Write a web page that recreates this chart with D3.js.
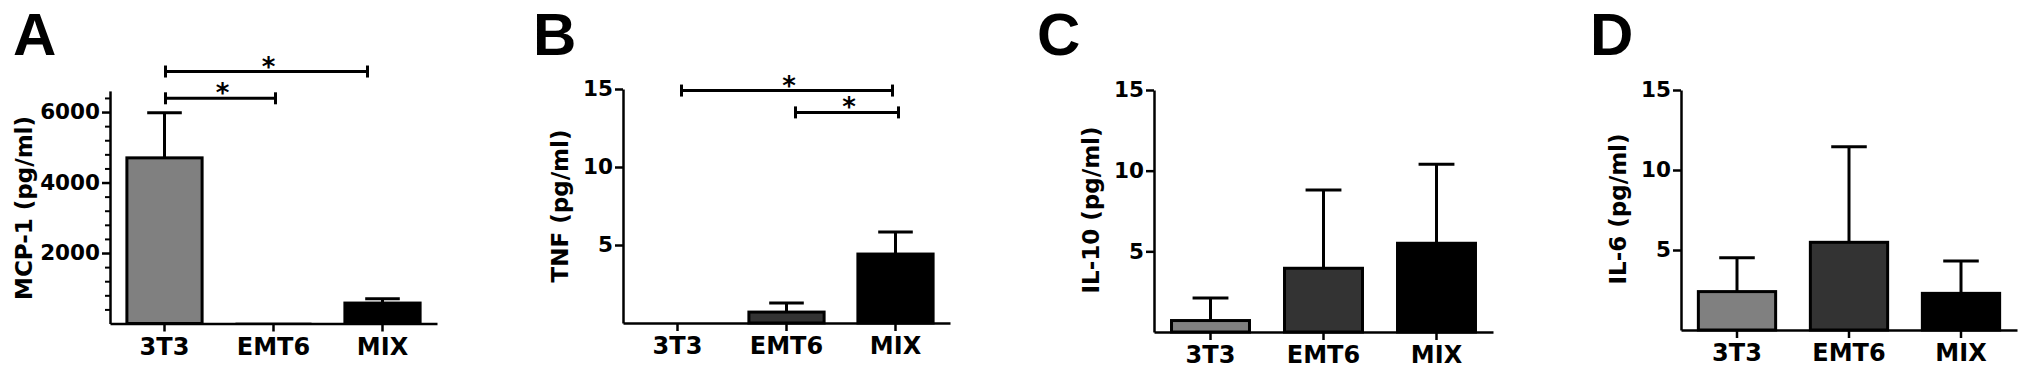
<!DOCTYPE html>
<html lang="en">
<head>
    <meta charset="UTF-8">
    <title>Cytokines</title>
    <script src="https://cdn.jsdelivr.net/npm/d3@7"></script>
    <style>
        body { margin: 0; background: #fff; }
        text { font-family: "DejaVu Sans", sans-serif; font-weight: bold; fill: #000; }
        .panel-letter { font-family: "Liberation Sans", Arial, sans-serif; font-size: 60px; }
    </style>
</head>
<body>
<script>
    // data (mean, upper error)
    var categories = ["3T3", "EMT6", "MIX"];
    var barColors = ["#808080", "#333333", "#000000"];

    var mcp1Mean = [4700, 20, 580];
    var mcp1Err = [1280, 0, 120];
    var tnfMean = [0, 0.7, 4.42];
    var tnfErr = [0, 0.58, 1.42];
    var il10Mean = [0.71, 3.95, 5.5];
    var il10Err = [1.4, 4.85, 4.9];
    var il6Mean = [2.4, 5.48, 2.29];
    var il6Err = [2.12, 5.98, 2.02];

    var mcp1Ticks = [2000, 4000, 6000];
    var mcp1Minor = d3.range(400, 6600, 400).filter(function (v) { return v % 2000 !== 0; });
    var cytoTicks = [5, 10, 15];

    // significance brackets: from / to category, height in data units
    var mcp1Sig = [
        { from: "3T3", to: "MIX", y: 7150, dx1: 1, dx2: -15 },
        { from: "3T3", to: "EMT6", y: 6390, dx1: 1, dx2: 2 }
    ];
    var tnfSig = [
        { from: "3T3", to: "MIX", y: 14.9, dx1: 4, dx2: -3 },
        { from: "EMT6", to: "MIX", y: 13.5, dx1: 9, dx2: 3 }
    ];

    var width = 2031, height = 380;
    var svg = d3.select("body").append("svg")
        .attr("width", width)
        .attr("height", height);

    var panels = [
        { letter: "A", lx: 13, title: "MCP-1 (pg/ml)", tx: 24, ty: 208,
          mean: mcp1Mean, err: mcp1Err, domain: [0, 6600], yr: [323.5, 90.9], xr: [110, 437],
          ticks: mcp1Ticks, minor: mcp1Minor, sig: mcp1Sig },
        { letter: "B", lx: 533, title: "TNF (pg/ml)", tx: 560, ty: 206,
          mean: tnfMean, err: tnfErr, domain: [0, 15], yr: [323, 89], xr: [623, 950],
          ticks: cytoTicks, minor: [], sig: tnfSig },
        { letter: "C", lx: 1037, title: "IL-10 (pg/ml)", tx: 1091, ty: 210,
          mean: il10Mean, err: il10Err, domain: [0, 15], yr: [332, 90], xr: [1154, 1493],
          ticks: cytoTicks, minor: [], sig: [] },
        { letter: "D", lx: 1590, title: "IL-6 (pg/ml)", tx: 1618, ty: 209,
          mean: il6Mean, err: il6Err, domain: [0, 15], yr: [330, 90], xr: [1681, 2017],
          ticks: cytoTicks, minor: [], sig: [] }
    ];

    panels.forEach(function (p) {
        var g = svg.append("g");

        var x = d3.scaleBand()
            .domain(categories)
            .range(p.xr)
            .paddingInner(0.31)
            .paddingOuter(0.155);
        var y = d3.scaleLinear()
            .domain(p.domain)
            .range(p.yr);

        // panel letter
        g.append("text")
            .attr("class", "panel-letter")
            .attr("x", p.lx)
            .attr("y", 55)
            .text(p.letter);

        // y axis title
        g.append("text")
            .attr("transform", "translate(" + p.tx + "," + p.ty + ") rotate(-90)")
            .attr("text-anchor", "middle")
            .attr("dy", "0.35em")
            .style("font-size", "23px")
            .text(p.title);

        var bars = categories.map(function (c, i) {
            return { cat: c, mean: p.mean[i], err: p.err[i], color: barColors[i] };
        });

        // error bars (upper only)
        var capW = x.bandwidth() * 0.46;
        var eb = g.selectAll(".err").data(bars.filter(function (d) { return d.err > 0; }))
            .enter().append("g");
        eb.append("line")
            .attr("x1", function (d) { return x(d.cat) + x.bandwidth() / 2; })
            .attr("x2", function (d) { return x(d.cat) + x.bandwidth() / 2; })
            .attr("y1", function (d) { return y(d.mean); })
            .attr("y2", function (d) { return y(d.mean + d.err); })
            .attr("stroke", "#000").attr("stroke-width", 3);
        eb.append("line")
            .attr("x1", function (d) { return x(d.cat) + x.bandwidth() / 2 - capW / 2; })
            .attr("x2", function (d) { return x(d.cat) + x.bandwidth() / 2 + capW / 2; })
            .attr("y1", function (d) { return y(d.mean + d.err); })
            .attr("y2", function (d) { return y(d.mean + d.err); })
            .attr("stroke", "#000").attr("stroke-width", 3);

        // bars
        g.selectAll(".bar").data(bars.filter(function (d) { return d.mean > 0; }))
            .enter().append("rect")
            .attr("x", function (d) { return x(d.cat); })
            .attr("y", function (d) { return y(d.mean); })
            .attr("width", x.bandwidth())
            .attr("height", function (d) { return y(0) - y(d.mean); })
            .attr("fill", function (d) { return d.color; })
            .attr("stroke", function (d) { return (y(0) - y(d.mean)) < 3 ? "#999" : "#000"; })
            .attr("stroke-width", function (d) { return (y(0) - y(d.mean)) < 3 ? 1 : 3; });

        // axes
        var yAxis = g.append("g")
            .attr("transform", "translate(" + p.xr[0] + ",0)")
            .call(d3.axisLeft(y).tickValues(p.ticks).tickFormat(d3.format("d"))
                .tickSize(8).tickSizeOuter(0).tickPadding(2));
        yAxis.select(".domain").attr("stroke-width", 2.5);
        yAxis.selectAll(".tick line").attr("stroke-width", 2.5);
        yAxis.selectAll(".tick text").style("font-size", "21.5px").attr("fill", "#000");

        if (p.minor.length) {
            var mAxis = g.append("g")
                .attr("transform", "translate(" + p.xr[0] + ",0)")
                .call(d3.axisLeft(y).tickValues(p.minor).tickSize(5).tickFormat(""));
            mAxis.select(".domain").remove();
            mAxis.selectAll(".tick line").attr("stroke-width", 2);
        }

        var xAxis = g.append("g")
            .attr("transform", "translate(0," + y(0) + ")")
            .call(d3.axisBottom(x).tickSize(8).tickSizeOuter(0).tickPadding(6));
        xAxis.select(".domain").attr("stroke-width", 2.5);
        xAxis.selectAll(".tick line").attr("stroke-width", 2.5);
        xAxis.selectAll(".tick text").style("font-size", "24px").attr("fill", "#000");

        // significance brackets
        p.sig.forEach(function (s) {
            var x1 = x(s.from) + x.bandwidth() / 2 + s.dx1;
            var x2 = x(s.to) + x.bandwidth() / 2 + s.dx2;
            var yy = y(s.y);
            var b = g.append("g").attr("stroke", "#000").attr("stroke-width", 3);
            b.append("line").attr("x1", x1).attr("x2", x2).attr("y1", yy).attr("y2", yy);
            b.append("line").attr("x1", x1).attr("x2", x1).attr("y1", yy - 6).attr("y2", yy + 6);
            b.append("line").attr("x1", x2).attr("x2", x2).attr("y1", yy - 6).attr("y2", yy + 6);
            g.append("text")
                .attr("x", (x1 + x2) / 2 + 2)
                .attr("y", yy + 4)
                .attr("text-anchor", "middle")
                .style("font-size", "26px")
                .text("*");
        });
    });
</script>
</body>
</html>
